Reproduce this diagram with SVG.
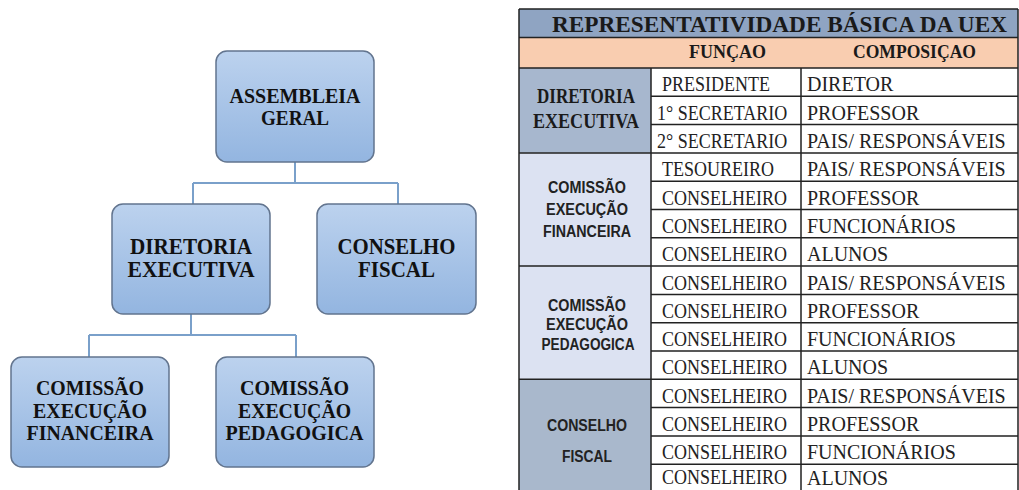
<svg xmlns="http://www.w3.org/2000/svg" width="1019" height="490" viewBox="0 0 1019 490">
<defs>
<linearGradient id="boxg" x1="0" y1="0" x2="0" y2="1">
<stop offset="0" stop-color="#bcd2ee"/>
<stop offset="1" stop-color="#93b5e0"/>
</linearGradient>
<style>
.box{fill:url(#boxg);stroke:#62748e;stroke-width:1.5}
.conn{fill:none;stroke:#7aa0ca;stroke-width:2}
.bt{font-family:"Liberation Serif",serif;font-weight:bold;fill:#111;text-anchor:middle}
.tl{stroke:#222;stroke-width:1.5;fill:none}
.th{font-family:"Liberation Serif",serif;font-weight:bold;fill:#1a1a1a;text-anchor:middle}
.td{font-family:"Liberation Serif",serif;fill:#222}
.gs{font-family:"Liberation Sans",sans-serif;font-weight:bold;font-size:16px;fill:#222;text-anchor:middle}
</style>
</defs>
<rect width="1019" height="490" fill="#ffffff"/>

<g id="connectors">
<path class="conn" d="M295 162 V183 M193 183 H398 M193 183 V204 M398 183 V204"/>
<path class="conn" d="M191 314 V335 M89 335 H296 M89 335 V357 M296 335 V357"/>
</g>

<g id="assembleia">
<rect class="box" x="216" y="51" width="158" height="111" rx="11"/>
<text class="bt" x="295" y="103" font-size="20.5" textLength="131" lengthAdjust="spacingAndGlyphs">ASSEMBLEIA</text>
<text class="bt" x="295" y="125" font-size="20.5" textLength="68" lengthAdjust="spacingAndGlyphs">GERAL</text>
</g>
<g id="diretoria">
<rect class="box" x="112" y="204" width="158" height="110" rx="11"/>
<text class="bt" x="191" y="254" font-size="23" textLength="122" lengthAdjust="spacingAndGlyphs">DIRETORIA</text>
<text class="bt" x="191" y="277" font-size="23" textLength="127" lengthAdjust="spacingAndGlyphs">EXECUTIVA</text>
</g>
<g id="conselho">
<rect class="box" x="317" y="204" width="159" height="110" rx="11"/>
<text class="bt" x="396.5" y="254" font-size="23" textLength="118" lengthAdjust="spacingAndGlyphs">CONSELHO</text>
<text class="bt" x="396.5" y="277" font-size="23" textLength="77" lengthAdjust="spacingAndGlyphs">FISCAL</text>
</g>
<g id="financeira">
<rect class="box" x="11" y="357" width="158" height="110" rx="11"/>
<text class="bt" x="90" y="395" font-size="20" textLength="108" lengthAdjust="spacingAndGlyphs">COMISSÃO</text>
<text class="bt" x="90" y="418" font-size="20" textLength="114" lengthAdjust="spacingAndGlyphs">EXECUÇÃO</text>
<text class="bt" x="90" y="440" font-size="20" textLength="127" lengthAdjust="spacingAndGlyphs">FINANCEIRA</text>
</g>
<g id="pedagogica">
<rect class="box" x="216" y="357" width="158" height="110" rx="11"/>
<text class="bt" x="294.5" y="395" font-size="20" textLength="109" lengthAdjust="spacingAndGlyphs">COMISSÃO</text>
<text class="bt" x="294.5" y="418" font-size="20" textLength="113" lengthAdjust="spacingAndGlyphs">EXECUÇÃO</text>
<text class="bt" x="294.5" y="440" font-size="20" textLength="138" lengthAdjust="spacingAndGlyphs">PEDAGOGICA</text>
</g>

<g id="tabela">
<rect x="519" y="9" width="499" height="28.5" fill="#8fa4c2"/>
<rect x="519" y="37.5" width="499" height="30.5" fill="#f9cdb0"/>
<rect x="519" y="68" width="132" height="84.9" fill="#a7b7ce"/>
<rect x="519" y="152.9" width="132" height="113.2" fill="#dce2f2"/>
<rect x="519" y="266.1" width="132" height="113.2" fill="#dce2f2"/>
<rect x="519" y="379.3" width="132" height="113.2" fill="#a9b8cc"/>

<path class="tl" d="M519 9 H1018 M519 37.5 H1018 M519 68 H1018 M519 152.9 H1018 M519 266.1 H1018 M519 379.3 H1018"/>
<path class="tl" d="M651 96.3 H1018 M651 124.6 H1018 M651 181.2 H1018 M651 209.5 H1018 M651 237.8 H1018 M651 294.4 H1018 M651 322.7 H1018 M651 351 H1018 M651 407.6 H1018 M651 435.9 H1018 M651 464.2 H1018"/>
<path class="tl" d="M519 9 V492 M1018 9 V492 M651 68 V492 M801 68 V492"/>

<text class="th" x="779.5" y="31.5" font-size="23" textLength="455" lengthAdjust="spacingAndGlyphs">REPRESENTATIVIDADE BÁSICA DA UEX</text>
<g transform="scale(1,1.1)">
<text class="th" x="727.5" y="52.7" font-size="18" textLength="77" lengthAdjust="spacingAndGlyphs">FUNÇAO</text>
<text class="th" x="914.5" y="52.7" font-size="18" textLength="123" lengthAdjust="spacingAndGlyphs">COMPOSIÇAO</text>
</g>
<g transform="scale(1,1.2)">
<text class="th" x="586" y="85.8" font-size="17" textLength="98" lengthAdjust="spacingAndGlyphs">DIRETORIA</text>
<text class="th" x="586" y="106.7" font-size="17" textLength="106" lengthAdjust="spacingAndGlyphs">EXECUTIVA</text>
</g>
<text class="gs" x="587" y="193" textLength="78" lengthAdjust="spacingAndGlyphs">COMISSÃO</text>
<text class="gs" x="587" y="215" textLength="82" lengthAdjust="spacingAndGlyphs">EXECUÇÃO</text>
<text class="gs" x="587" y="236.7" textLength="88" lengthAdjust="spacingAndGlyphs">FINANCEIRA</text>
<text class="gs" x="587" y="310.5" textLength="78" lengthAdjust="spacingAndGlyphs">COMISSÃO</text>
<text class="gs" x="587" y="330" textLength="82" lengthAdjust="spacingAndGlyphs">EXECUÇÃO</text>
<text class="gs" x="588" y="350" textLength="93" lengthAdjust="spacingAndGlyphs">PEDAGOGICA</text>
<text class="gs" x="587" y="431" textLength="80" lengthAdjust="spacingAndGlyphs">CONSELHO</text>
<text class="gs" x="587" y="462" textLength="50" lengthAdjust="spacingAndGlyphs">FISCAL</text>

<g class="td" font-size="18" transform="scale(1,1.2)">
<text x="662" y="76.25">PRESIDENTE</text>
<text x="657" y="99.83">1° SECRETARIO</text>
<text x="657" y="123.42">2° SECRETARIO</text>
<text x="662" y="147">TESOUREIRO</text>
<text x="662" y="170.58">CONSELHEIRO</text>
<text x="662" y="194.17">CONSELHEIRO</text>
<text x="662" y="217.75">CONSELHEIRO</text>
<text x="662" y="241.33">CONSELHEIRO</text>
<text x="662" y="264.92">CONSELHEIRO</text>
<text x="662" y="288.5">CONSELHEIRO</text>
<text x="662" y="312.08">CONSELHEIRO</text>
<text x="662" y="335.67">CONSELHEIRO</text>
<text x="662" y="359.25">CONSELHEIRO</text>
<text x="662" y="382.83">CONSELHEIRO</text>
<text x="662" y="403.5">CONSELHEIRO</text>
</g>
<g class="td" font-size="20" transform="scale(1,1.1)">
<text x="807" y="83.18">DIRETOR</text>
<text x="807" y="108.91">PROFESSOR</text>
<text x="807" y="134.64">PAIS/ RESPONSÁVEIS</text>
<text x="807" y="160.36">PAIS/ RESPONSÁVEIS</text>
<text x="807" y="186.09">PROFESSOR</text>
<text x="807" y="211.82">FUNCIONÁRIOS</text>
<text x="807" y="237.55">ALUNOS</text>
<text x="807" y="263.27">PAIS/ RESPONSÁVEIS</text>
<text x="807" y="289">PROFESSOR</text>
<text x="807" y="314.73">FUNCIONÁRIOS</text>
<text x="807" y="340.45">ALUNOS</text>
<text x="807" y="366.18">PAIS/ RESPONSÁVEIS</text>
<text x="807" y="391.91">PROFESSOR</text>
<text x="807" y="417.64">FUNCIONÁRIOS</text>
<text x="807" y="440.5">ALUNOS</text>
</g>
</g>
</svg>
